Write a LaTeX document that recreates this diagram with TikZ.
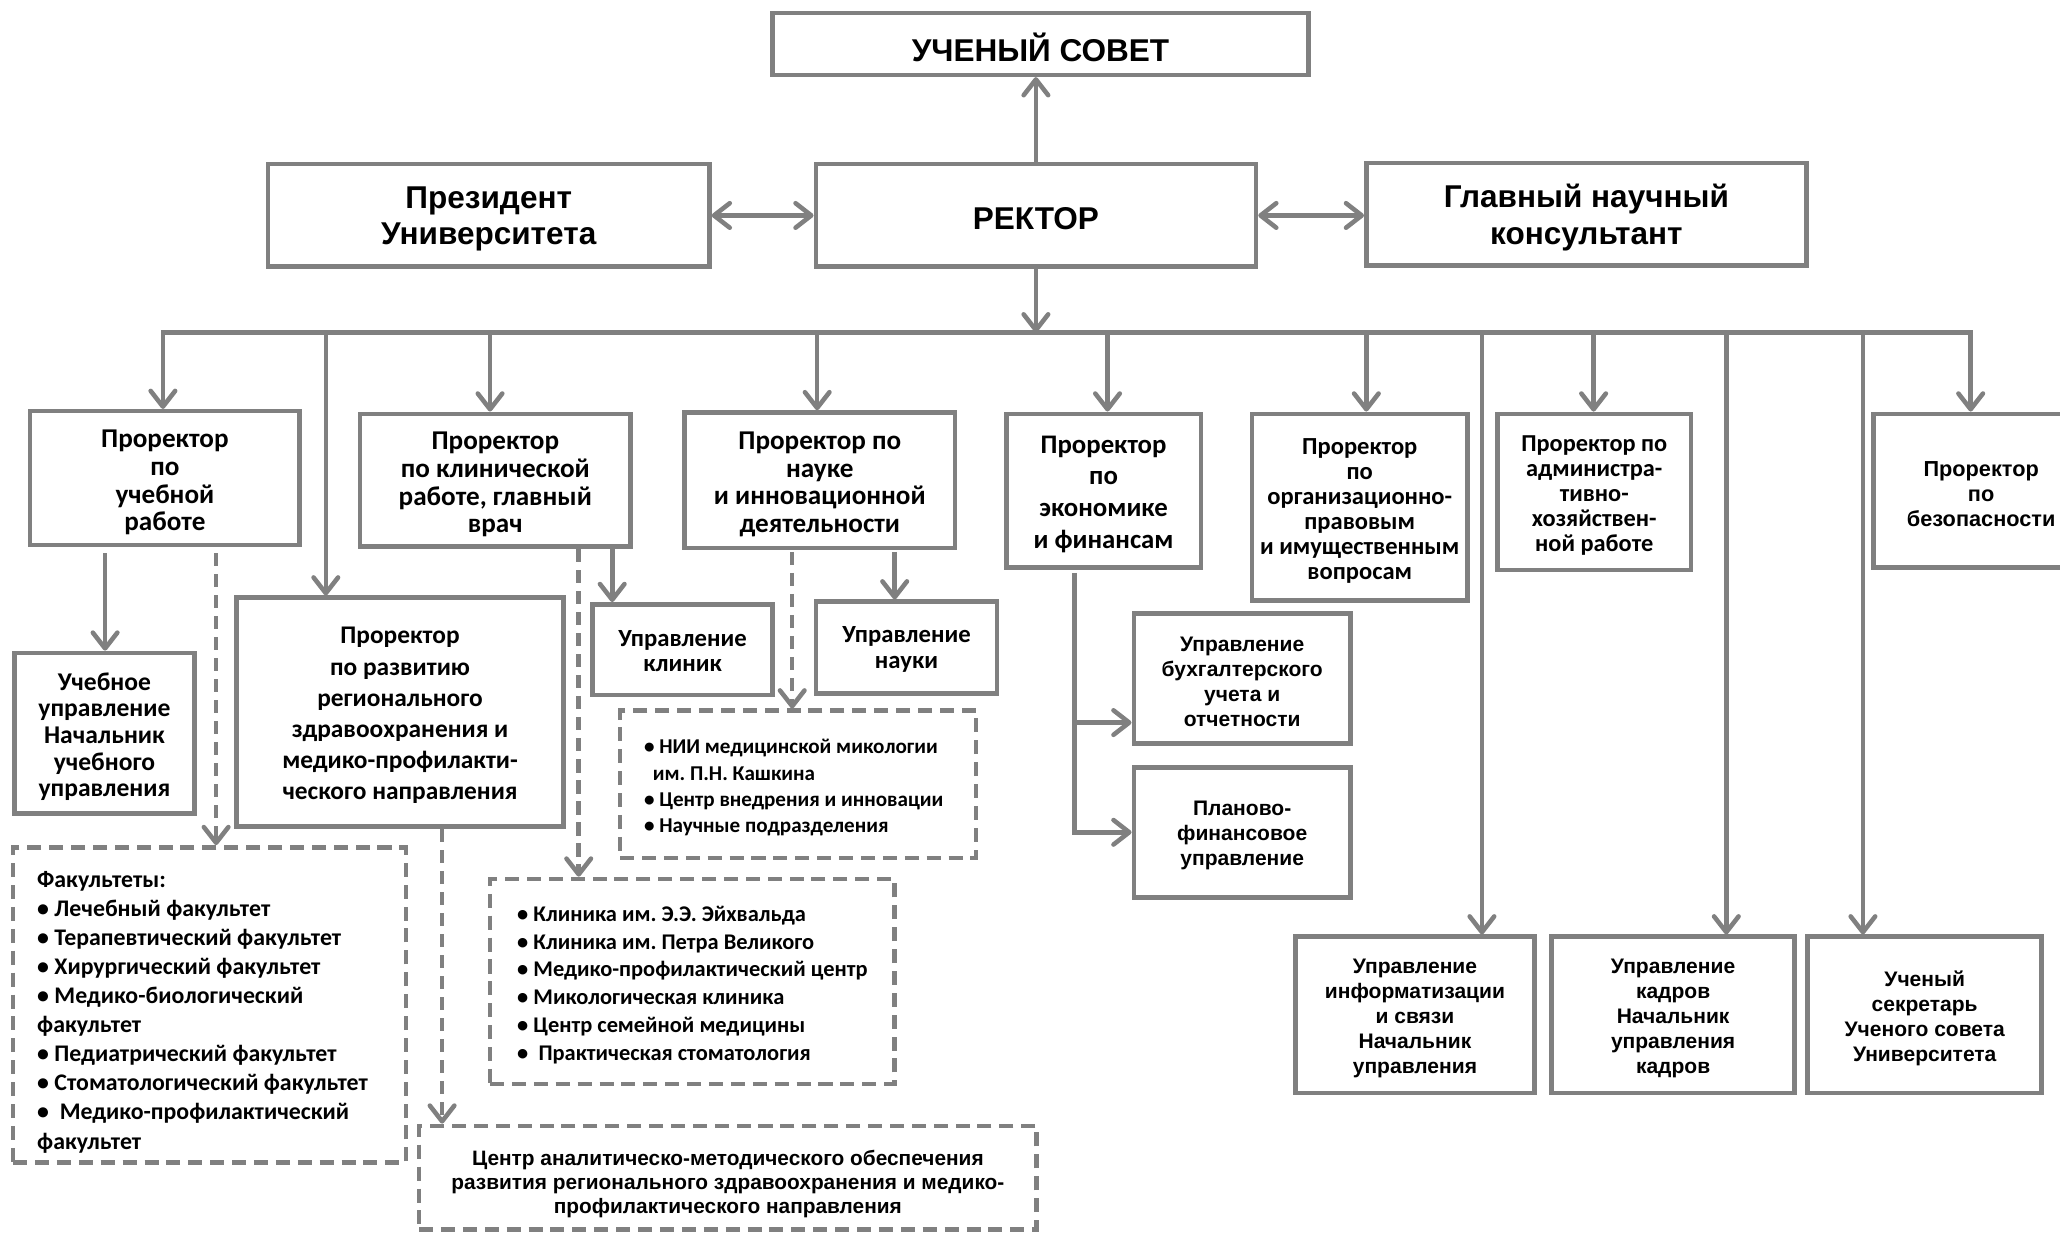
\documentclass[tikz,border=0pt]{standalone}
\usepackage{fontspec}
\setmainfont{Liberation Sans}
\newfontfamily\calfam{Carlito}
\newfontfamily\arifam{Liberation Sans}
\usetikzlibrary{arrows.meta}
\definecolor{gr}{RGB}{128,128,128}
\frenchspacing
\tikzset{
  tsh/.store in=\tsh, tsh=-2pt,
  txs/.store in=\txs, txs=0pt,
  box/.style={draw=gr, line width=2.6pt, fill=white, inner sep=0pt, align=center},
  dbox/.style={box, dash pattern=on 8pt off 4.5pt},
  plain/.style={draw=gr, line width=2.6pt, line cap=rect},
  arr/.style={draw=gr, line width=2.6pt, -{Straight Barb[length=9pt,width=14pt,round]}},
  darr/.style={arr, dash pattern=on 7.5pt off 4.5pt},
  dblarr/.style={draw=gr, line width=2.6pt, {Straight Barb[length=9pt,width=14pt,round]}-{Straight Barb[length=9pt,width=14pt,round]}},
  top/.style={font=\arifam\bfseries\fontsize{18}{21}\selectfont},
  calL/.style={font=\calfam\bfseries\fontsize{15.5}{15.75}\selectfont},
  calM/.style={font=\calfam\bfseries\fontsize{14}{14.3}\selectfont},
  ariS/.style={font=\arifam\bfseries\fontsize{12}{14.2}\selectfont},
}
\newcommand\mkbox[7]{%
  \pgfmathsetmacro\bw{(#5-#3)*0.75}\pgfmathsetmacro\bh{(#6-#4)*0.75}%
  \node[#2, minimum width=\bw pt, minimum height=\bh pt] (#1) at ({(#3+#5)/2},{(#4+#6)/2}) {};
  \node[#2, draw=none, fill=none, minimum width=0pt, minimum height=0pt, yshift=\tsh, xshift=\txs] (#1-t) at (#1.center) {#7};}
\newcommand\mklist[7]{%
  \pgfmathsetmacro\bw{(#5-#3)*0.75}\pgfmathsetmacro\bh{(#6-#4)*0.75}%
  \node[#2, minimum width=\bw pt, minimum height=\bh pt] (#1) at ({(#3+#5)/2},{(#4+#6)/2}) {};
  \node[#2, draw=none, fill=none, align=left, minimum width=0pt, minimum height=0pt, yshift=\tsh, xshift=\txs] (#1-t) at (#1.center) {#7};}
\begin{document}
\begin{tikzpicture}[x=0.75pt,y=-0.75pt]
\clip (0,0) rectangle (1568,938);
\fill[white] (0,0) rectangle (1568,938);
% top level
\mkbox{council}{box,top}{588}{10}{996}{57}{УЧЕНЫЙ СОВЕТ}
\mkbox{pres}{box,top}{204}{125}{540}{203}{Президент\\Университета}
\mkbox{rector}{box,top}{621}{125}{956}{203}{РЕКТОР}
\mkbox{chief}{box,top}{1040}{124}{1375}{202}{Главный научный\\консультант}
% vice-rectors
\mkbox{uch}{box,calL,tsh=-2.5pt}{23}{313}{228}{415}{Проректор\\по\\учебной\\работе}
\mkbox{klin}{box,calL,tsh=-2.5pt}{274}{315}{480}{416}{Проректор\\по клинической\\работе, главный\\врач}
\mkbox{nauka}{box,calL,tsh=-2.5pt}{521}{314}{727}{417}{Проректор по\\науке\\и инновационной\\деятельности}
\mkbox{econ}{box,font=\calfam\bfseries\fontsize{15.3}{18}\selectfont}{766}{315}{914}{432}{Проректор\\по\\экономике\\и финансам}
\mkbox{org}{box,calM}{953}{315}{1117}{457}{Проректор\\по\\организационно-\\правовым\\и имущественным\\вопросам}
\mkbox{adm}{box,font=\calfam\bfseries\fontsize{13.9}{14.3}\selectfont}{1140}{315}{1287}{434}{Проректор по\\администра-\\тивно-\\хозяйствен-\\ной работе}
\mkbox{bez}{box,font=\arifam\bfseries\fontsize{12.4}{14.3}\selectfont}{1426}{315}{1590}{432}{Проректор\\по\\безопасности}
% second row
\mkbox{uu}{box,font=\calfam\bfseries\fontsize{14.6}{15.2}\selectfont}{11}{497}{148}{619}{Учебное\\управление\\Начальник\\учебного\\управления}
\mkbox{razv}{box,font=\calfam\bfseries\fontsize{14.5}{17.8}\selectfont}{180}{455}{429}{629}{Проректор\\по развитию\\регионального\\здравоохранения и\\медико-профилакти-\\ческого направления}
\mkbox{uk}{box,font=\calfam\bfseries\fontsize{14.1}{14.3}\selectfont,tsh=-1pt}{451}{460}{588}{529}{Управление\\клиник}
\mkbox{un}{box,font=\calfam\bfseries\fontsize{14.1}{14.3}\selectfont,tsh=-1pt}{621}{458}{759}{528}{Управление\\науки}
\mkbox{buh}{box,ariS}{863}{467}{1028}{566}{Управление\\бухгалтерского\\учета и\\отчетности}
\mkbox{plan}{box,ariS}{863}{584}{1028}{683}{Планово-\\финансовое\\управление}
\mkbox{inf}{box,ariS}{986}{713}{1168}{832}{Управление\\информатизации\\и связи\\Начальник\\управления}
\mkbox{kad}{box,ariS}{1181}{713}{1366}{832}{Управление\\кадров\\Начальник\\управления\\кадров}
\mkbox{sec}{box,ariS}{1376}{713}{1554}{832}{Ученый\\секретарь\\Ученого совета\\Университета}
% dashed lists
\mklist{nii}{dbox,font=\calfam\bfseries\fontsize{12.05}{15}\selectfont,txs=-2.5pt}{472}{541}{743}{653}{• НИИ медицинской микологии\\\hspace*{5pt}им. П.Н. Кашкина\\• Центр внедрения и инновации\\• Научные подразделения}
\mklist{fac}{dbox,font=\calfam\bfseries\fontsize{13.6}{16.6}\selectfont,tsh=-4pt,txs=-4pt}{10}{645}{309}{885}{Факультеты:\\• Лечебный факультет\\• Терапевтический факультет\\• Хирургический факультет\\• Медико-биологический\\факультет\\• Педиатрический факультет\\• Стоматологический факультет\\•\ \ Медико-профилактический\\факультет}
\mklist{clin}{dbox,font=\calfam\bfseries\fontsize{12.8}{15.9}\selectfont}{373}{669}{681}{825}{• Клиника им. Э.Э. Эйхвальда\\• Клиника им. Петра Великого\\• Медико-профилактический центр\\• Микологическая клиника\\• Центр семейной медицины\\•\ \ Практическая стоматология}
\mkbox{cam}{dbox,font=\arifam\bfseries\fontsize{11.9}{13.8}\selectfont,tsh=-3.5pt}{319}{857}{789}{936}{Центр аналитическо-методического обеспечения\\развития регионального здравоохранения и медико-\\профилактического направления}
% connectors top
\draw[arr] (rector.north) -- (rector.north |- council.south);
\draw[dblarr] (pres.east) -- (rector.west);
\draw[dblarr] (rector.east) -- (rector.east -| chief.west);
\coordinate (busL) at (124,253);
\coordinate (busR) at (1500,253);
\draw[arr] (rector.south) -- (rector.south |- busL);
\draw[plain] (busL) -- (busR);
% drops
\coordinate (d1) at (124,253);
\coordinate (d2) at (248,253);
\coordinate (d3) at (373,253);
\coordinate (d4) at (622,253);
\coordinate (d5) at (843,253);
\coordinate (d6) at (1040,253);
\coordinate (d7) at (1128,253);
\coordinate (d8) at (1213,253);
\coordinate (d9) at (1314,253);
\coordinate (d10) at (1418,253);
\coordinate (d11) at (1500,253);
\draw[arr] (d1) -- (d1 |- uch.north);
\draw[arr] (d2) -- (d2 |- razv.north);
\draw[arr] (d3) -- (d3 |- klin.north);
\draw[arr] (d4) -- (d4 |- nauka.north);
\draw[arr] (d5) -- (d5 |- econ.north);
\draw[arr] (d6) -- (d6 |- org.north);
\draw[arr] (d7) -- (d7 |- inf.north);
\draw[arr] (d8) -- (d8 |- adm.north);
\draw[arr] (d9) -- (d9 |- kad.north);
\draw[arr] (d10) -- (d10 |- sec.north);
\draw[arr] (d11) -- (d11 |- bez.north);
% sub connectors
\coordinate (s1) at (80,421);
\coordinate (s2) at (164.5,421);
\coordinate (s3) at (440.5,418);
\coordinate (s4) at (466,417);
\coordinate (s5) at (603,420);
\coordinate (s6) at (681,420);
\coordinate (s7) at (336.5,631);
\coordinate (e1) at (818,436);
\coordinate (e2) at (818,550);
\draw[arr] (s1) -- (s1 |- uu.north);
\draw[darr] (s2) -- (s2 |- fac.north);
\draw[darr] (s3) -- (s3 |- clin.north);
\draw[arr] (s4) -- (s4 |- uk.north);
\draw[darr] (s5) -- (s5 |- nii.north);
\draw[arr] (s6) -- (s6 |- un.north);
\draw[darr] (s7) -- (s7 |- cam.north);
\draw[arr] (e1) |- (plan.west);
\draw[arr] (e2) -- (e2 -| buh.west);
\end{tikzpicture}
\end{document}
